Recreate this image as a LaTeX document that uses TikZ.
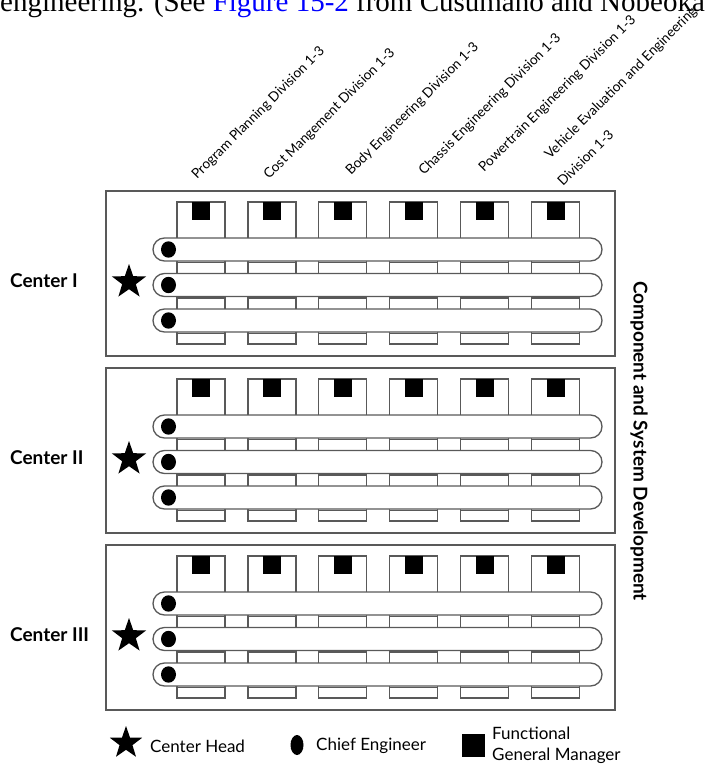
\documentclass[tikz,border=0pt]{standalone}
\usepackage{fontspec}
\setmainfont{Liberation Serif}
\newfontfamily\diagfont{Lato}
\usetikzlibrary{shapes.geometric}

\begin{document}
\begin{tikzpicture}[x=1pt,y=-1pt]
	\tikzstyle{every node}=[font=\diagfont]
	\tikzstyle{frame}=[draw=black!65,line width=1.3pt]
	\tikzstyle{lane}=[frame,fill=white,rounded corners=11.5pt]
	\tikzstyle{headstar}=[star,star points=5,star point ratio=2.5,fill=black,inner sep=0pt]
	\tikzstyle{divlabel}=[rotate=45,anchor=base west,inner sep=0pt,font=\diagfont\fontsize{13.6}{16}\selectfont]
	\tikzstyle{centerlabel}=[anchor=west,inner sep=0pt,font=\diagfont\bfseries\fontsize{19}{19}\selectfont]
	\tikzstyle{keylabel}=[anchor=west,inner sep=0pt,align=left,font=\diagfont\fontsize{17}{21}\selectfont]
	
	\useasboundingbox (0,0) rectangle (712,765);
	
	% running text of the page, cut at the top
	\begin{scope}
	\clip (0,0) rectangle (712,765);
	\node[anchor=base west,inner sep=0pt,font=\rmfamily\fontsize{29}{29}\selectfont] (pagetext) at (0,12) {engineering. (See \textcolor{blue}{Figure 15-2} from Cusumano and Nobeoka};
	\end{scope}
	
	% the three centers
	\foreach \T/\cname in {191/I,368/II,545/III} {
		\draw[frame] (106,\T) rectangle (615,\T+165);
		\foreach \i in {0,...,5} {
			\pgfmathsetmacro\L{177+70.9*\i}
			\draw[frame] (\L,\T+11) rectangle ++(48,142);
			\fill (\L+15,\T+11) rectangle ++(18,18);
		}
		\foreach \j in {0,1,2} {
			\pgfmathsetmacro\Y{\T+47+35.5*\j}
			\draw[lane] (153,\Y) rectangle (602,\Y+23);
			\fill (168.5,\Y+11.5) ellipse (7.5 and 8.2);
			\foreach \i in {0,...,5}
				\draw[frame] (177+70.9*\i,\Y+24.6) -- ++(48,0);
		}
		\node[headstar,minimum size=36pt] (star\cname) at (129,\T+91) {};
		\node[centerlabel] (center\cname) at (10,\T+90) {Center \cname};
	}
	
	\node[rotate=-90,inner sep=0pt,font=\diagfont\bfseries\fontsize{19}{19}\selectfont] (csd) at (639,441) {Component and System Development};
	
	% division names
	\node[divlabel] (div1) at (197,180) {Program Planning Division 1-3};
	\node[divlabel] (div2) at (269,180) {Cost Mangement Division 1-3};
	\node[divlabel] (div3) at (351,176) {Body Engineering Division 1-3};
	\node[divlabel] (div4) at (424,176) {Chassis Engineering Division 1-3};
	\node[divlabel] (div5) at (484,173) {Powertrain Engineering Division 1-3};
	\node[divlabel] (div6) at (550,160) {Vehicle Evaluation and Engineering};
	\node[divlabel] (div6b) at (563,187) {Division 1-3};
	
	% key
	\node[headstar,minimum size=34pt] (keystar) at (126,743) {};
	\node[keylabel] (keyhead) at (150,746) {Center Head};
	\node[ellipse,fill=black,inner sep=0pt,minimum width=13pt,minimum height=20pt] (keydot) at (297,745) {};
	\node[keylabel] (keychief) at (316,746) {Chief Engineer};
	\node[fill=black,inner sep=0pt,minimum size=23pt] (keysq) at (473.5,745.5) {};
	\node[keylabel] (keygm) at (492,745) {Functional\\General Manager};
	
\end{tikzpicture}
\end{document}
